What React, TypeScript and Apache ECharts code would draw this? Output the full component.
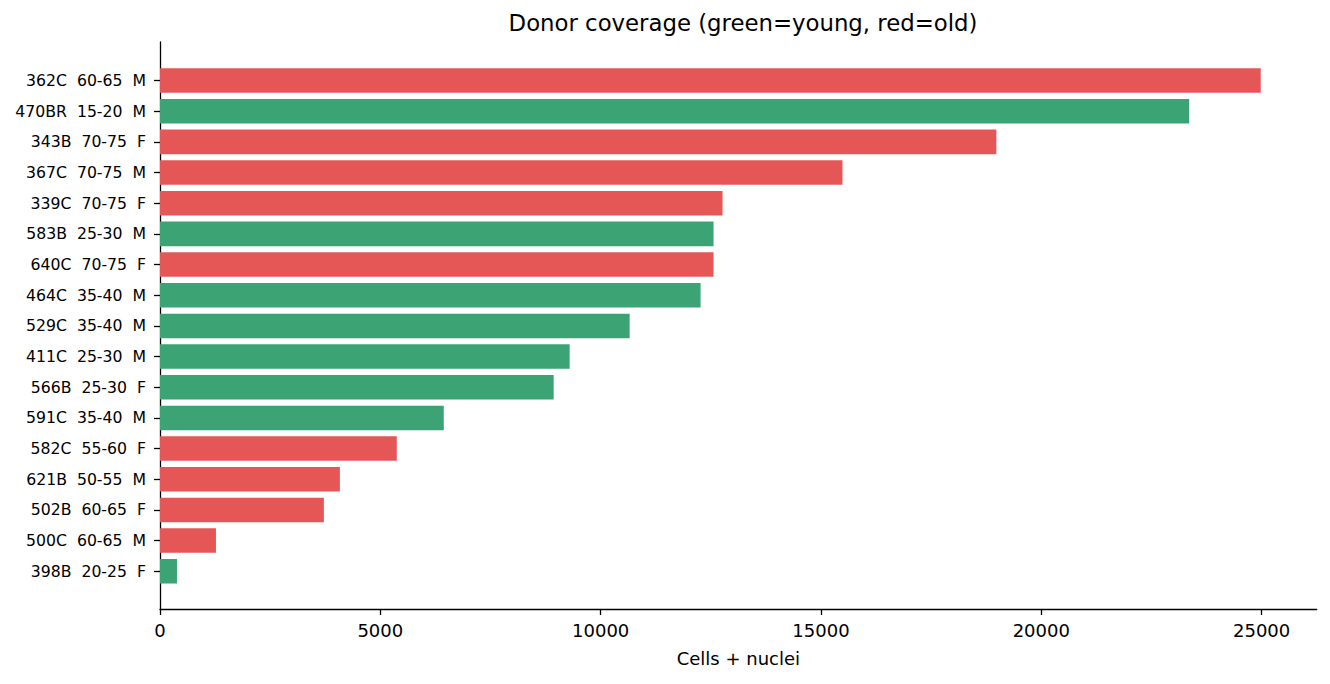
import React, { useEffect, useRef } from "react";
import * as echarts from "echarts";

const donorIds = ["362C", "470BR", "343B", "367C", "339C", "583B", "640C", "464C", "529C", "411C", "566B", "591C", "582C", "621B", "502B", "500C", "398B"];
const ageBands = ["60-65", "15-20", "70-75", "70-75", "70-75", "25-30", "70-75", "35-40", "35-40", "25-30", "25-30", "35-40", "55-60", "50-55", "60-65", "60-65", "20-25"];
const sexes = ["M", "M", "F", "M", "F", "M", "F", "M", "M", "M", "F", "M", "F", "M", "F", "M", "F"];
const groups = ["old", "young", "old", "old", "old", "young", "old", "young", "young", "young", "young", "young", "old", "old", "old", "old", "young"];
const cellCounts = [24980, 23356, 18980, 15488, 12766, 12562, 12562, 12268, 10658, 9297, 8934, 6440, 5374, 4082, 3719, 1270, 385];
const xTicks = [0, 5000, 10000, 15000, 20000, 25000];

const groupColors: Record<string, string> = { young: "#3ba374", old: "#e45756" };
const FONT = "DejaVu Sans";

export default function App() {
  const ref = useRef<HTMLDivElement>(null);
  useEffect(() => {
    document.body.style.margin = "0";
    const chart = echarts.init(ref.current!, null, { renderer: "svg" });
    const labels = donorIds.map((id, i) => `${id}\u00a0\u00a0${ageBands[i]}\u00a0\u00a0${sexes[i]}`);
    const xMax = 26250;
    chart.setOption({
      animation: false,
      backgroundColor: "#ffffff",
      title: {
        text: "Donor coverage (green=young, red=old)",
        left: 738,
        top: 6,
        textAlign: "center",
        textStyle: { fontFamily: FONT, fontSize: 22.8, fontWeight: "normal", color: "#000" },
      },
      grid: [
        { left: 160, right: 13.3, top: 42, bottom: 75, containLabel: false },
        { left: 160, right: 13.3, top: 65.2, bottom: 97.4, containLabel: false },
      ],
      xAxis: [
        {
          type: "value",
          gridIndex: 0,
          min: 0,
          max: xMax,
          interval: 5000,
          name: "Cells + nuclei",
          nameLocation: "middle",
          nameGap: 40,
          nameTextStyle: { fontFamily: FONT, fontSize: 18, color: "#000" },
          axisLine: { show: true, lineStyle: { color: "#000", width: 1.3 } },
          axisTick: { show: true, length: 6, lineStyle: { color: "#000", width: 1.3 } },
          axisLabel: {
            fontFamily: FONT,
            fontSize: 18,
            color: "#000",
            margin: 12,
            showMaxLabel: false,
            formatter: (v: number) => (xTicks.includes(v) ? String(v) : ""),
          },
          splitLine: { show: false },
        },
        {
          type: "value",
          gridIndex: 1,
          min: 0,
          max: xMax,
          show: false,
        },
      ],
      yAxis: [
        {
          type: "value",
          gridIndex: 0,
          min: 0,
          max: 1,
          axisLine: { show: true, onZero: false, lineStyle: { color: "#000", width: 1.3 } },
          axisTick: { show: false },
          axisLabel: { show: false },
          splitLine: { show: false },
        },
        {
          type: "category",
          gridIndex: 1,
          inverse: true,
          data: labels,
          axisLine: { show: false },
          axisTick: { show: true, alignWithLabel: true, length: 6, lineStyle: { color: "#000", width: 1.3 } },
          axisLabel: { fontFamily: FONT, fontSize: 15.7, color: "#000", margin: 14 },
          splitLine: { show: false },
        },
      ],
      series: [
        {
          type: "bar",
          xAxisIndex: 1,
          yAxisIndex: 1,
          barWidth: "80%",
          data: cellCounts.map((v, i) => ({ value: v, itemStyle: { color: groupColors[groups[i]] } })),
        },
      ],
    });
    return () => chart.dispose();
  }, []);
  return <div ref={ref} style={{ position: "fixed", left: 0, top: 0, width: 1330, height: 684 }} />;
}
